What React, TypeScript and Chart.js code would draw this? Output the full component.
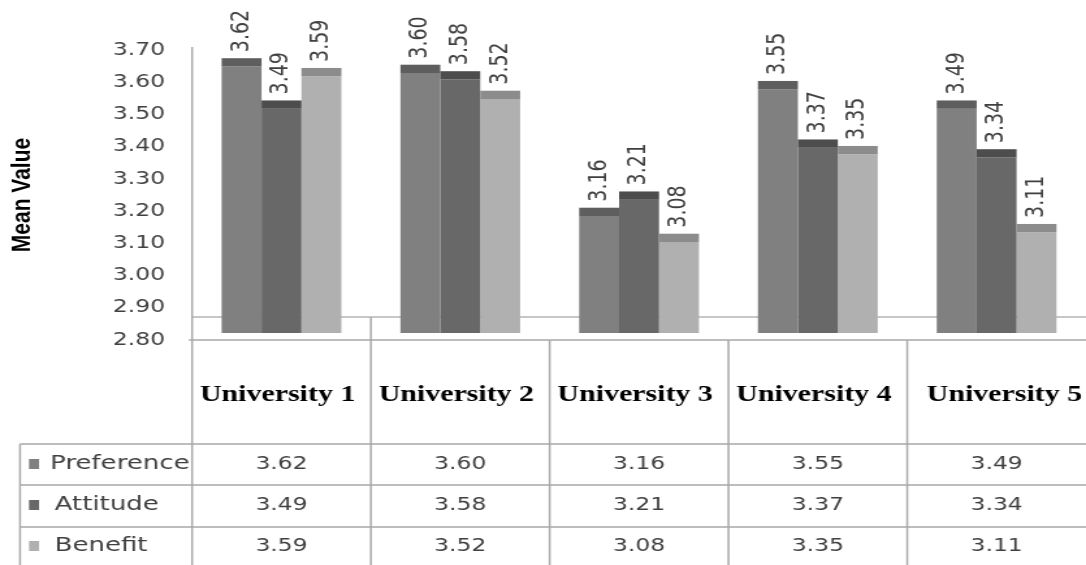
import React, { useEffect, useRef } from 'react';
import { Chart, registerables } from 'chart.js';

Chart.register(...registerables);

const categories = ['University 1', 'University 2', 'University 3', 'University 4', 'University 5'];
const seriesNames = ['Preference', 'Attitude', 'Benefit'];
const preference = [3.62, 3.6, 3.16, 3.55, 3.49];
const attitude = [3.49, 3.58, 3.21, 3.37, 3.34];
const benefit = [3.59, 3.52, 3.08, 3.35, 3.11];
const yTicks = [2.8, 2.9, 3.0, 3.1, 3.2, 3.3, 3.4, 3.5, 3.6, 3.7];

const faceColors = ['#808080', '#686868', '#b0b0b0'];
const capColors = ['#5e5e5e', '#4d4d4d', '#8c8c8c'];

// internal canvas size (displayed horizontally stretched to 1086px)
const W = 835;
const H = 565;
const CAP = 8.3;
const FLOOR_Y = 317;
const LINE = '#a8a8a8';

export default function App() {
  const ref = useRef<HTMLCanvasElement>(null);

  useEffect(() => {
    document.body.style.margin = '0';
    const canvas = ref.current!;
    const seriesData = [preference, attitude, benefit];

    const decor = {
      id: 'decor',
      beforeDatasetsDraw(chart: any) {
        const { ctx, chartArea } = chart;
        ctx.save();
        ctx.strokeStyle = '#b4b4b4';
        ctx.lineWidth = 1.5;
        ctx.beginPath();
        ctx.moveTo(chartArea.left, FLOOR_Y);
        ctx.lineTo(W, FLOOR_Y);
        ctx.stroke();
        ctx.restore();
      },
      afterDatasetsDraw(chart: any) {
        const ctx = chart.ctx;
        chart.data.datasets.forEach((ds: any, di: number) => {
          const meta = chart.getDatasetMeta(di);
          meta.data.forEach((bar: any, i: number) => {
            const { x, y, width } = bar.getProps(['x', 'y', 'width'], true);
            ctx.save();
            ctx.fillStyle = capColors[di];
            ctx.fillRect(x - width / 2, y - CAP, width, CAP);
            ctx.translate(x, y - CAP - 6);
            ctx.rotate(-Math.PI / 2);
            ctx.font = '19px "DejaVu Sans"';
            ctx.fillStyle = '#404040';
            ctx.textAlign = 'left';
            ctx.textBaseline = 'middle';
            ctx.fillText(Number(ds.data[i]).toFixed(2), 0, 0);
            ctx.restore();
          });
        });
      },
      afterDraw(chart: any) {
        const { ctx, chartArea } = chart;
        const xs = chart.scales.x;
        const top = chartArea.bottom;
        const rowLines = [444, 485, 527];
        const rowCenters = [464, 505, 546];
        const left = 15.4;
        ctx.save();
        ctx.strokeStyle = LINE;
        ctx.lineWidth = 1.5;
        ctx.beginPath();
        // y axis line
        ctx.moveTo(chartArea.left, 47);
        ctx.lineTo(chartArea.left, H);
        // table top
        ctx.moveTo(chartArea.left - 2.5, top);
        ctx.lineTo(W, top);
        rowLines.forEach((ry) => {
          ctx.moveTo(left, ry);
          ctx.lineTo(W, ry);
        });
        ctx.moveTo(left, rowLines[0]);
        ctx.lineTo(left, H);
        for (let i = 1; i < categories.length; i++) {
          const bx = (xs.getPixelForValue(i - 1) + xs.getPixelForValue(i)) / 2;
          ctx.moveTo(bx, i === 1 ? FLOOR_Y : top);
          ctx.lineTo(bx, H);
        }
        ctx.stroke();

        // header labels
        ctx.fillStyle = '#000';
        ctx.font = 'bold 23px "Liberation Serif"';
        ctx.textAlign = 'center';
        ctx.textBaseline = 'alphabetic';
        categories.forEach((c, i) => {
          ctx.fillText(c, xs.getPixelForValue(i) - (i === 4 ? -6 : 3), 401);
        });

        // rows
        seriesNames.forEach((name, si) => {
          const cy = rowCenters[si];
          ctx.fillStyle = faceColors[si];
          ctx.fillRect(22.3, cy - 5, 7.7, 10);
          ctx.fillStyle = '#404040';
          ctx.font = '20px "DejaVu Sans"';
          ctx.textAlign = 'left';
          ctx.textBaseline = 'middle';
          ctx.fillText(name, si === 0 ? 38.5 : 42, cy);
          ctx.font = '18px "DejaVu Sans"';
          ctx.textAlign = 'center';
          seriesData[si].forEach((v, i) => {
            ctx.fillText(v.toFixed(2), xs.getPixelForValue(i), cy);
          });
        });
        ctx.restore();
      },
    };

    const chart = new Chart(canvas, {
      type: 'bar',
      data: {
        labels: categories,
        datasets: seriesNames.map((name, si) => ({
          label: name,
          data: seriesData[si],
          backgroundColor: faceColors[si],
          borderWidth: 0,
          base: 2.8,
          yAxisID: 'yb',
          categoryPercentage: 0.67,
          barPercentage: 1.0,
        })),
      },
      options: {
        animation: false,
        responsive: false,
        devicePixelRatio: 1,
        layout: { padding: { top: 50, bottom: 225, left: 0, right: -7 } },
        plugins: { legend: { display: false }, tooltip: { enabled: false } },
        scales: {
          x: { display: false, offset: true },
          y: {
            position: 'left',
            min: 2.8,
            max: 3.7,
            afterBuildTicks: (s: any) => {
              s.ticks = yTicks.map((v) => ({ value: v }));
            },
            afterFit: (s: any) => {
              s.width = 147.7;
            },
            grid: { display: false, drawTicks: false },
            border: { display: false },
            ticks: {
              autoSkip: false,
              padding: 20.8,
              color: '#404040',
              font: { family: 'DejaVu Sans', size: 18 },
              callback: (v: any) => Number(v).toFixed(2),
            },
            title: {
              display: true,
              text: 'Mean Value',
              color: '#000',
              font: { family: 'Liberation Sans', size: 21, weight: 'bold' },
              padding: { top: 4.4, bottom: 0 },
            },
          },
          yb: { display: false, min: 2.7785, max: 3.6708 },
        },
      },
      plugins: [decor],
    } as any);

    return () => chart.destroy();
  }, []);

  return (
    <canvas
      ref={ref}
      width={W}
      height={H}
      style={{ width: '1086px', height: '565px', display: 'block' }}
    />
  );
}
